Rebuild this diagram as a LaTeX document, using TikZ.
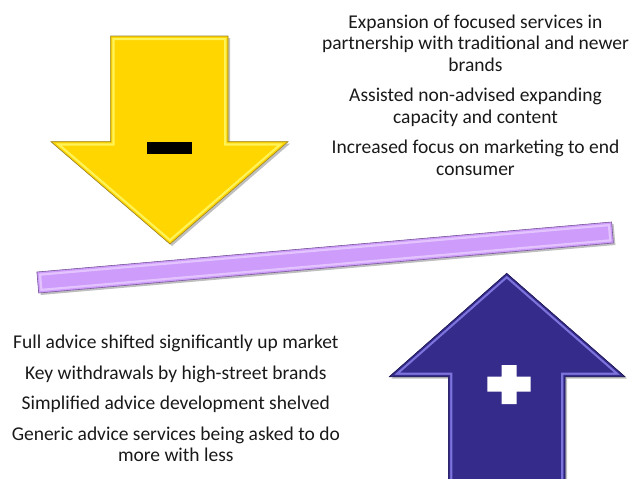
\documentclass[tikz,border=0pt]{standalone}
\usepackage{fontspec}
\setmainfont{Carlito}
\usepackage{tikz}
\usetikzlibrary{positioning}

\definecolor{downGold}{RGB}{255,214,0}
\definecolor{downGoldLight}{RGB}{255,243,90}
\definecolor{downGoldEdge}{RGB}{150,128,50}
\definecolor{upIndigo}{RGB}{52,43,139}
\definecolor{upIndigoLight}{RGB}{125,115,220}
\definecolor{upIndigoEdge}{RGB}{30,24,80}
\definecolor{barLilac}{RGB}{206,156,250}
\definecolor{barLilacLight}{RGB}{228,196,255}
\definecolor{barLilacEdge}{RGB}{120,90,150}

% filled shape with a light rim just inside its border
\newcommand{\bevelled}[4]{%
    \fill[black, opacity=.25, shift={(2,2)}] #1;
    \fill[#2] #1;
    \begin{scope}
        \clip #1;
        \draw[line width=8pt, #3] #1;
        \draw[line width=3.5pt, #2] #1;
    \end{scope}
    \draw[line width=.6pt, #4] #1;
}

\tikzset{
    note/.style={align=flush center, text width=360pt, inner sep=0pt, text=black!90,
        font=\fontsize{19.5}{21.3}\selectfont,
        execute at begin node=\strut, execute at end node=\strut},
    sign/.style={rectangle, inner sep=0pt, minimum width=45pt, minimum height=12pt}
}

\begin{document}
\begin{tikzpicture}[x=1pt, y=-1pt]
    \useasboundingbox (0,0) rectangle (633,479);

    % Down arrow
    \bevelled{(110.7,36) -- (228,36) -- (228,141.7) -- (288,141.7) -- (170,244) -- (51,141.7) -- (110.7,141.7) -- cycle}{downGold}{downGoldLight}{downGoldEdge}
    \node[sign, fill=black] (minus) at (169.7,148.2) {};

    % Balance bar
    \bevelled{(36.9,272) -- (611.6,222) -- (613.4,243) -- (38.7,293) -- cycle}{barLilac}{barLilacLight}{barLilacEdge}

    % Up arrow
    \begin{scope}
        \clip (0,0) rectangle (633,479);
        \bevelled{(506.7,273.3) -- (625,376.7) -- (565,376.7) -- (565,490) -- (448.3,490) -- (448.3,376.7) -- (389.3,376.7) -- cycle}{upIndigo}{upIndigoLight}{upIndigoEdge}
    \end{scope}
    \fill[white] (487.3,376.7) rectangle (530.7,391.7)
                 (501.7,365) rectangle (516.7,404);

    % Upper notes
    \node[note, anchor=north] (expand) at (475.5,13.4)
        {Expansion of focused services in\\partnership with traditional and newer\\brands};
    \node[note, below=9pt of expand] (assist)
        {Assisted non-advised expanding\\capacity and content};
    \node[note, below=9pt of assist] (market)
        {Increased focus on marketing to end\\consumer};

    % Lower notes
    \node[note, anchor=north] (full) at (175.8,333.4)
        {Full advice shifted significantly up market};
    \node[note, below=9pt of full] (withdraw)
        {Key withdrawals by high-street brands};
    \node[note, below=9pt of withdraw] (shelved)
        {Simplified advice development shelved};
    \node[note, below=9pt of shelved] (generic)
        {Generic advice services being asked to do\\more with less};
\end{tikzpicture}
\end{document}
